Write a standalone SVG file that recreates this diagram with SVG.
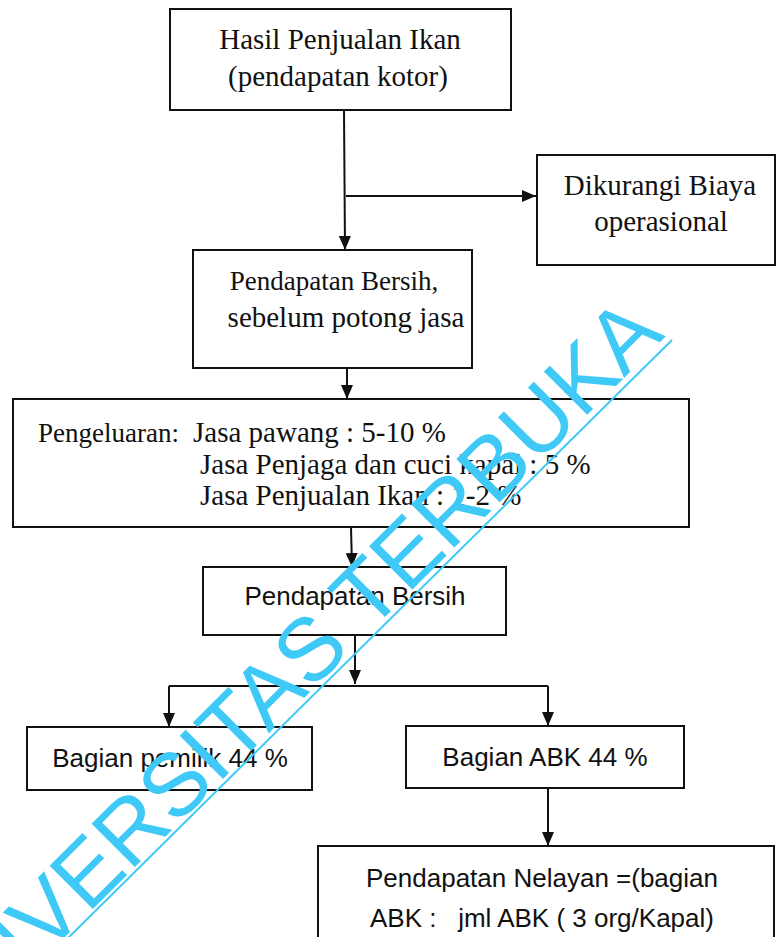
<svg xmlns="http://www.w3.org/2000/svg" width="776" height="937" viewBox="0 0 776 937">
<style>
.box{fill:#fff;stroke:#111;stroke-width:2}
.serif{font-family:"Liberation Serif","Times New Roman",serif;font-size:29px;fill:#111}
.sans{font-family:"Liberation Sans",Arial,sans-serif;font-size:26px;fill:#111}
.c{text-anchor:middle}
.con{fill:none;stroke:#111;stroke-width:2}
.wm{font-family:"Liberation Sans",Arial,sans-serif;font-size:89px;fill:#3fc9f7}
</style>
<defs>
<marker id="ah" markerUnits="userSpaceOnUse" markerWidth="14" markerHeight="12" refX="14" refY="6" orient="auto">
<path d="M0,0 L14,6 L0,12 z" fill="#111"/>
</marker>
</defs>
<rect width="776" height="937" fill="#fff"/>
<g id="connectors">
<line class="con" x1="344" y1="110" x2="345" y2="250" marker-end="url(#ah)"/>
<line class="con" x1="346" y1="196" x2="536" y2="196" marker-end="url(#ah)"/>
<line class="con" x1="347" y1="368" x2="347" y2="399" marker-end="url(#ah)"/>
<line class="con" x1="351" y1="527" x2="352" y2="567" marker-end="url(#ah)"/>
<line class="con" x1="355" y1="635" x2="355" y2="684" marker-end="url(#ah)"/>
<line class="con" x1="169" y1="686" x2="548" y2="686"/>
<line class="con" x1="169" y1="686" x2="169" y2="727" marker-end="url(#ah)"/>
<line class="con" x1="548" y1="686" x2="548" y2="726" marker-end="url(#ah)"/>
<line class="con" x1="548" y1="788" x2="548" y2="846" marker-end="url(#ah)"/>
</g>
<g id="n1">
<rect class="box" x="170" y="9" width="341" height="101"/>
<text class="serif c" x="340" y="49">Hasil Penjualan Ikan</text>
<text class="serif c" x="338" y="86">(pendapatan kotor)</text>
</g>
<g id="n2">
<rect class="box" x="537" y="155" width="238" height="110"/>
<text class="serif c" x="660" y="195">Dikurangi Biaya</text>
<text class="serif c" x="661" y="231">operasional</text>
</g>
<g id="n3">
<rect class="box" x="193" y="250" width="279" height="118"/>
<text class="serif c" x="334" y="290" style="font-size:27px">Pendapatan Bersih,</text>
<text class="serif c" x="346" y="327">sebelum potong jasa</text>
</g>
<g id="n4">
<rect class="box" x="13" y="399" width="676" height="128"/>
<text class="serif" x="38" y="442" style="font-size:27px">Pengeluaran:</text>
<text class="serif" x="193" y="442">Jasa pawang : 5-10 %</text>
<text class="serif" x="200" y="474">Jasa Penjaga dan cuci kapal : 5 %</text>
<text class="serif" x="200" y="505">Jasa Penjualan Ikan : 1-2 %</text>
</g>
<g id="n5">
<rect class="box" x="203" y="567" width="303" height="68"/>
<text class="sans c" x="355" y="605">Pendapatan Bersih</text>
</g>
<g id="n6">
<rect class="box" x="27" y="727" width="285" height="63"/>
<text class="sans c" x="170" y="767">Bagian pemilik 44 %</text>
</g>
<g id="n7">
<rect class="box" x="406" y="726" width="278" height="62"/>
<text class="sans c" x="545" y="766">Bagian ABK 44 %</text>
</g>
<g id="n8">
<rect class="box" x="318" y="846" width="456" height="104"/>
<text class="sans c" x="542" y="887">Pendapatan Nelayan =(bagian</text>
<text class="sans c" x="542" y="927" xml:space="preserve">ABK :   jml ABK ( 3 org/Kapal)</text>
</g>
<g id="watermark">
<text class="wm" text-anchor="end" transform="translate(666,336) rotate(-45)">UNIVERSITAS TERBUKA</text>
<line x1="64" y1="942" x2="672" y2="340" stroke="#3fc9f7" stroke-width="2"/>
</g>
</svg>
